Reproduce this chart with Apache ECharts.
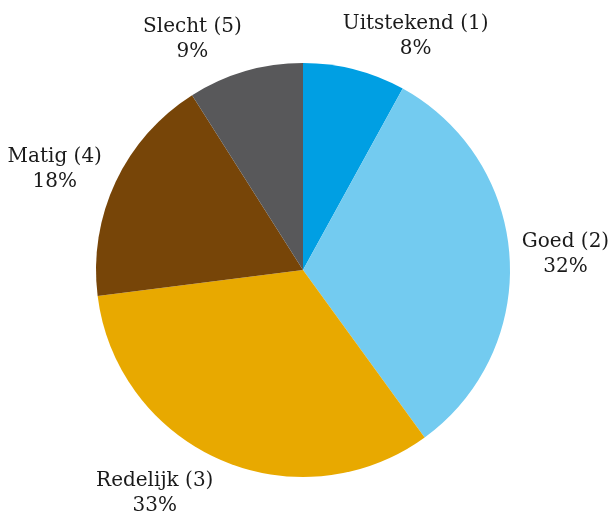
<!DOCTYPE html>
<html><head><meta charset="utf-8">
<script src="https://cdn.jsdelivr.net/npm/echarts@6/dist/echarts.min.js"></script>
<style>html,body{margin:0;padding:0;background:#fff}#c{width:610px;height:515px}</style>
</head><body><div id="c"></div>
<script>
var categories = ['Uitstekend (1)', 'Goed (2)', 'Redelijk (3)', 'Matig (4)', 'Slecht (5)'];
var values = [8, 32, 33, 18, 9];
var colors = ['#009FE3', '#73CBF0', '#E8A900', '#774508', '#58585A'];

var total = values.reduce(function(a,b){return a+b;},0);
var cx = 303, cy = 270, R = 207, labelR = 260;
// label nudges (layout only), relative to a radial anchor
var labelNudge = [[48, 18], [3, 1], [-45, -15], [-13, 10], [-38, 19]];
var chart = echarts.init(document.getElementById('c'));
chart.setOption({
  animation: false,
  series: [{
    type: 'pie',
    center: [cx, cy],
    radius: R,
    startAngle: 90,
    clockwise: true,
    data: categories.map(function(n,i){return {name:n, value:values[i], itemStyle:{color:colors[i]}};}),
    label: {
      show: true,
      position: 'outside',
      formatter: function(p){ return p.name + '\n' + Math.round(p.value/total*100) + '%'; },
      fontFamily: 'DejaVu Serif',
      fontSize: 20,
      lineHeight: 25,
      color: '#1a1a1a',
      overflow: 'none',
      width: 300
    },
    labelLine: { show: false },
    labelLayout: function(p){
      var cum = 0;
      for (var i=0;i<p.dataIndex;i++) cum += values[i];
      var mid = (cum + values[p.dataIndex]/2)/total*2*Math.PI;
      var n = labelNudge[p.dataIndex];
      return { x: cx + labelR*Math.sin(mid) + n[0], y: cy - labelR*Math.cos(mid) + n[1], align:'center', verticalAlign:'middle' };
    }
  }]
});
</script></body></html>
